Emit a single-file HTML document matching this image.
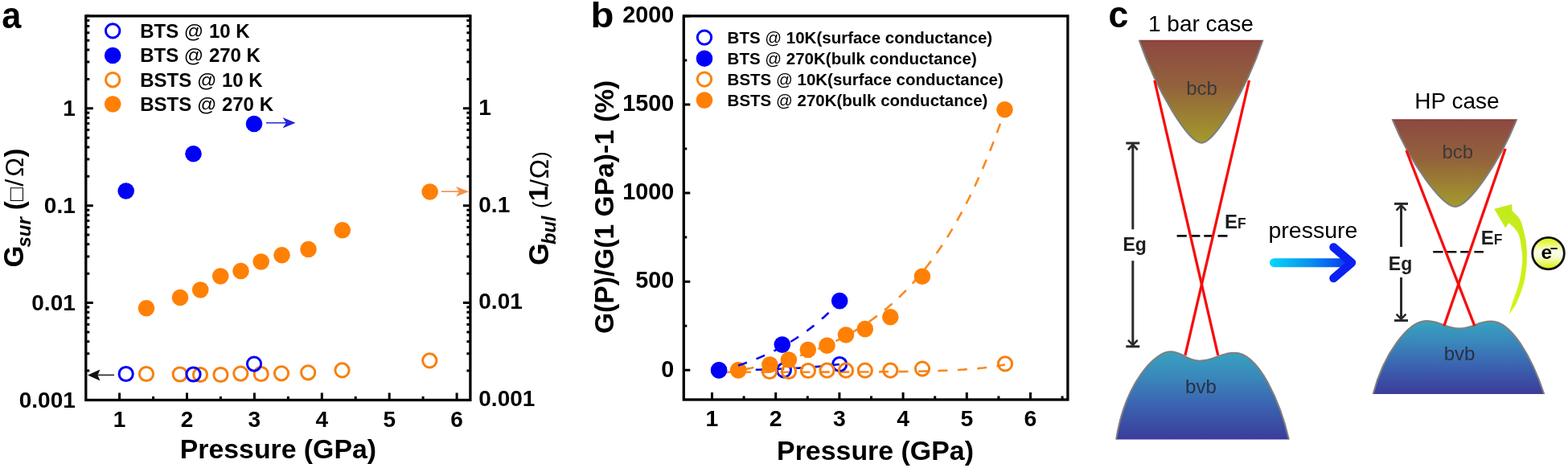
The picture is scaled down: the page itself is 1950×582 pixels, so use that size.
<!DOCTYPE html>
<html><head><meta charset="utf-8"><style>
html,body{margin:0;padding:0;background:#fff;}
svg{display:block;}
text{font-family:'Liberation Sans', Arial, Helvetica, sans-serif;}
</style></head><body>
<svg width="1950" height="582" viewBox="0 0 1950 582" font-family="'Liberation Sans', Arial, Helvetica, sans-serif">
<rect width="1950" height="582" fill="#fff"/>
<text transform="translate(2.2,34.6) scale(0.93,1)" font-size="46.5" font-weight="bold">a</text>
<path d="M148.6,497.5 V488.5 M232.5,497.5 V488.5 M316.4,497.5 V488.5 M400.3,497.5 V488.5 M484.2,497.5 V488.5 M568.1,497.5 V488.5 M190.6,497.5 V493.0 M274.4,497.5 V493.0 M358.4,497.5 V493.0 M442.2,497.5 V493.0 M526.1,497.5 V493.0 M106.8,497.5 H115.8 M584.9,497.5 H575.9 M106.8,461.1 H111.3 M584.9,461.1 H580.4 M106.8,439.8 H111.3 M584.9,439.8 H580.4 M106.8,424.7 H111.3 M584.9,424.7 H580.4 M106.8,413.0 H111.3 M584.9,413.0 H580.4 M106.8,403.4 H111.3 M584.9,403.4 H580.4 M106.8,395.3 H111.3 M584.9,395.3 H580.4 M106.8,388.3 H111.3 M584.9,388.3 H580.4 M106.8,382.1 H111.3 M584.9,382.1 H580.4 M106.8,376.6 H115.8 M584.9,376.6 H575.9 M106.8,340.2 H111.3 M584.9,340.2 H580.4 M106.8,318.9 H111.3 M584.9,318.9 H580.4 M106.8,303.8 H111.3 M584.9,303.8 H580.4 M106.8,292.1 H111.3 M584.9,292.1 H580.4 M106.8,282.5 H111.3 M584.9,282.5 H580.4 M106.8,274.4 H111.3 M584.9,274.4 H580.4 M106.8,267.4 H111.3 M584.9,267.4 H580.4 M106.8,261.2 H111.3 M584.9,261.2 H580.4 M106.8,255.7 H115.8 M584.9,255.7 H575.9 M106.8,219.3 H111.3 M584.9,219.3 H580.4 M106.8,198.0 H111.3 M584.9,198.0 H580.4 M106.8,182.9 H111.3 M584.9,182.9 H580.4 M106.8,171.2 H111.3 M584.9,171.2 H580.4 M106.8,161.6 H111.3 M584.9,161.6 H580.4 M106.8,153.5 H111.3 M584.9,153.5 H580.4 M106.8,146.5 H111.3 M584.9,146.5 H580.4 M106.8,140.3 H111.3 M584.9,140.3 H580.4 M106.8,134.8 H115.8 M584.9,134.8 H575.9 M106.8,98.4 H111.3 M584.9,98.4 H580.4 M106.8,77.1 H111.3 M584.9,77.1 H580.4 M106.8,62.0 H111.3 M584.9,62.0 H580.4 M106.8,50.3 H111.3 M584.9,50.3 H580.4 M106.8,40.7 H111.3 M584.9,40.7 H580.4 M106.8,32.6 H111.3 M584.9,32.6 H580.4 M106.8,25.6 H111.3 M584.9,25.6 H580.4 M106.8,19.4 H111.3 M584.9,19.4 H580.4" stroke="#000" stroke-width="3" fill="none"/>
<rect x="106.8" y="19.9" width="478.1" height="477.6" fill="none" stroke="#000" stroke-width="3.3"/>
<text x="93.8" y="144.1" font-size="28" font-weight="bold" text-anchor="end">1</text>
<text x="595.3" y="142.6" font-size="28" font-weight="bold">1</text>
<text x="93.8" y="265.0" font-size="28" font-weight="bold" text-anchor="end">0.1</text>
<text x="595.3" y="263.5" font-size="28" font-weight="bold">0.1</text>
<text x="93.8" y="385.9" font-size="28" font-weight="bold" text-anchor="end">0.01</text>
<text x="595.3" y="384.4" font-size="28" font-weight="bold">0.01</text>
<text x="93.8" y="506.8" font-size="28" font-weight="bold" text-anchor="end">0.001</text>
<text x="595.3" y="505.3" font-size="28" font-weight="bold">0.001</text>
<text x="148.6" y="531.3" font-size="28" font-weight="bold" text-anchor="middle">1</text>
<text x="232.5" y="531.3" font-size="28" font-weight="bold" text-anchor="middle">2</text>
<text x="316.4" y="531.3" font-size="28" font-weight="bold" text-anchor="middle">3</text>
<text x="400.3" y="531.3" font-size="28" font-weight="bold" text-anchor="middle">4</text>
<text x="484.2" y="531.3" font-size="28" font-weight="bold" text-anchor="middle">5</text>
<text x="568.1" y="531.3" font-size="28" font-weight="bold" text-anchor="middle">6</text>
<text x="345.9" y="570.3" font-size="33.8" font-weight="bold" text-anchor="middle">Pressure (GPa)</text>
<text transform="translate(28.9,332.6) rotate(-90)" font-size="34.5" font-weight="bold" font-style="normal">G</text>
<text transform="translate(38.0,307.5) rotate(-90)" font-size="24" font-weight="bold" font-style="italic">sur</text>
<text transform="translate(28.7,261.2) rotate(-90)" font-size="33" font-weight="bold" font-style="normal">(</text>
<text transform="translate(28.6,250.0) rotate(-90)" font-size="27.5" font-weight="normal" font-style="normal">&#9633;</text>
<text transform="translate(28.6,231.8) rotate(-90)" font-size="32" font-weight="normal" font-style="normal">/</text>
<text transform="translate(28.6,219.8) rotate(-90)" font-size="32" font-weight="normal" font-style="normal">&#937;</text>
<text transform="translate(28.7,195.5) rotate(-90)" font-size="33" font-weight="bold" font-style="normal">)</text>
<text transform="translate(682.0,330.0) rotate(-90)" font-size="35.5" font-weight="bold" font-style="normal">G</text>
<text transform="translate(690.7,304.0) rotate(-90)" font-size="23.6" font-weight="bold" font-style="italic">bul</text>
<text transform="translate(681.3,259.0) rotate(-90)" font-size="26" font-weight="normal" font-style="normal">(</text>
<text transform="translate(681.0,250.0) rotate(-90)" font-size="33.5" font-weight="bold" font-style="normal">1</text>
<text transform="translate(681.7,232.0) rotate(-90)" font-size="32" font-weight="normal" font-style="normal">/</text>
<text transform="translate(681.7,222.5) rotate(-90)" font-size="33" font-weight="normal" font-style="normal">&#937;</text>
<text transform="translate(681.3,197.0) rotate(-90)" font-size="26" font-weight="normal" font-style="normal">)</text>
<circle cx="140.2" cy="38.4" r="8.7" fill="none" stroke="#0000fa" stroke-width="3"/>
<text x="174.2" y="46.8" font-size="24" font-weight="bold">BTS <tspan font-weight='normal'>@</tspan> 10 K</text>
<circle cx="140.2" cy="69" r="10.3" fill="#0000fa"/>
<text x="174.2" y="77.4" font-size="24" font-weight="bold">BTS <tspan font-weight='normal'>@</tspan> 270 K</text>
<circle cx="140.2" cy="99.2" r="8.7" fill="none" stroke="#ff8005" stroke-width="3"/>
<text x="174.2" y="107.6" font-size="24" font-weight="bold">BSTS <tspan font-weight='normal'>@</tspan> 10 K</text>
<circle cx="140.2" cy="129.5" r="10.3" fill="#ff8005"/>
<text x="174.2" y="137.9" font-size="24" font-weight="bold">BSTS <tspan font-weight='normal'>@</tspan> 270 K</text>
<circle cx="182.0" cy="465.0" r="8.6" fill="none" stroke="#f7800f" stroke-width="3"/>
<circle cx="223.7" cy="465.5" r="8.6" fill="none" stroke="#f7800f" stroke-width="3"/>
<circle cx="249.0" cy="466.0" r="8.6" fill="none" stroke="#f7800f" stroke-width="3"/>
<circle cx="274.4" cy="466.0" r="8.6" fill="none" stroke="#f7800f" stroke-width="3"/>
<circle cx="299.3" cy="464.6" r="8.6" fill="none" stroke="#f7800f" stroke-width="3"/>
<circle cx="324.7" cy="465.0" r="8.6" fill="none" stroke="#f7800f" stroke-width="3"/>
<circle cx="350.0" cy="464.3" r="8.6" fill="none" stroke="#f7800f" stroke-width="3"/>
<circle cx="383.2" cy="463.3" r="8.6" fill="none" stroke="#f7800f" stroke-width="3"/>
<circle cx="425.5" cy="460.4" r="8.6" fill="none" stroke="#f7800f" stroke-width="3"/>
<circle cx="534.3" cy="448.4" r="8.6" fill="none" stroke="#f7800f" stroke-width="3"/>
<circle cx="156.7" cy="465.0" r="8.6" fill="none" stroke="#0000fa" stroke-width="3"/>
<circle cx="240.5" cy="465.5" r="8.6" fill="none" stroke="#0000fa" stroke-width="3"/>
<circle cx="316.0" cy="452.6" r="8.6" fill="none" stroke="#0000fa" stroke-width="3"/>
<circle cx="182.0" cy="383.2" r="10.3" fill="#ff8005"/>
<circle cx="224.0" cy="370.0" r="10.3" fill="#ff8005"/>
<circle cx="249.2" cy="360.5" r="10.3" fill="#ff8005"/>
<circle cx="274.2" cy="343.5" r="10.3" fill="#ff8005"/>
<circle cx="299.5" cy="337.0" r="10.3" fill="#ff8005"/>
<circle cx="324.7" cy="325.5" r="10.3" fill="#ff8005"/>
<circle cx="350.5" cy="317.2" r="10.3" fill="#ff8005"/>
<circle cx="383.5" cy="310.0" r="10.3" fill="#ff8005"/>
<circle cx="425.8" cy="286.3" r="10.3" fill="#ff8005"/>
<circle cx="534.6" cy="238.5" r="10.3" fill="#ff8005"/>
<circle cx="156.7" cy="237.5" r="10.3" fill="#0000fa"/>
<circle cx="240.5" cy="191.3" r="10.3" fill="#0000fa"/>
<circle cx="316.0" cy="154.0" r="10.3" fill="#0000fa"/>
<line x1="331" y1="152.8" x2="356.0" y2="152.8" stroke="#2424d8" stroke-width="1.5"/>
<path d="M367.5,152.8 L351.5,146.0 L356.0,152.8 L351.5,159.6 Z" fill="#2424d8"/>
<line x1="548.8" y1="238.2" x2="571.1" y2="238.2" stroke="#f39046" stroke-width="1.6"/>
<path d="M583.1,238.2 L567.1,232.0 L571.1,238.2 L567.1,244.4 Z" fill="#f39046"/>
<line x1="142" y1="466.4" x2="121.5" y2="466.4" stroke="#111" stroke-width="1.4"/>
<path d="M109,466.4 L124.5,459.4 L121.5,466.4 L124.5,473.4 Z" fill="#111"/>
<text transform="translate(734.5,34) scale(1.08,1)" font-size="43.8" font-weight="bold">b</text>
<path d="M885.5,497 V488 M964.7,497 V488 M1043.9,497 V488 M1123.1,497 V488 M1202.3,497 V488 M1281.5,497 V488 M925.1,497 V492.5 M1004.3,497 V492.5 M1083.5,497 V492.5 M1162.7,497 V492.5 M1241.9,497 V492.5 M1321.1,497 V492.5 M850.3,460.3 H858.3 M850.3,405.2 H854.3 M850.3,350.2 H858.3 M850.3,295.1 H854.3 M850.3,240.1 H858.3 M850.3,185.1 H854.3 M850.3,130.0 H858.3 M850.3,74.9 H854.3 M850.3,19.9 H858.3" stroke="#000" stroke-width="3" fill="none"/>
<rect x="850.3" y="19.9" width="477.6" height="477.1" fill="none" stroke="#000" stroke-width="3.3"/>
<text x="838.3" y="468.5" font-size="28.8" font-weight="bold" text-anchor="end">0</text>
<text x="838.3" y="358.4" font-size="28.8" font-weight="bold" text-anchor="end">500</text>
<text x="838.3" y="248.3" font-size="28.8" font-weight="bold" text-anchor="end">1000</text>
<text x="838.3" y="138.2" font-size="28.8" font-weight="bold" text-anchor="end">1500</text>
<text x="838.3" y="28.1" font-size="28.8" font-weight="bold" text-anchor="end">2000</text>
<text x="885.5" y="530.4" font-size="28.4" font-weight="bold" text-anchor="middle">1</text>
<text x="964.7" y="530.4" font-size="28.4" font-weight="bold" text-anchor="middle">2</text>
<text x="1043.9" y="530.4" font-size="28.4" font-weight="bold" text-anchor="middle">3</text>
<text x="1123.1" y="530.4" font-size="28.4" font-weight="bold" text-anchor="middle">4</text>
<text x="1202.3" y="530.4" font-size="28.4" font-weight="bold" text-anchor="middle">5</text>
<text x="1281.5" y="530.4" font-size="28.4" font-weight="bold" text-anchor="middle">6</text>
<text x="1088.5" y="571.8" font-size="33.9" font-weight="bold" text-anchor="middle">Pressure (GPa)</text>
<text transform="translate(762.8,415) rotate(-90)" font-size="33.6" font-weight="bold">G(P)/G(1 GPa)-1 (%)</text>
<polyline points="893.4,462.7 895.7,462.7 897.9,462.7 900.1,462.7 902.4,462.7 904.6,462.7 906.9,462.7 909.1,462.7 911.4,462.7 913.6,462.7 915.8,462.7 918.1,462.7 920.3,462.7 922.6,462.7 924.8,462.7 927.0,462.7 929.3,462.7 931.5,462.7 933.8,462.7 936.0,462.7 938.3,462.7 940.5,462.7 942.7,462.7 945.0,462.7 947.2,462.7 949.5,462.7 951.7,462.7 953.9,462.7 956.2,462.7 958.4,462.7 960.7,462.7 962.9,462.7 965.1,462.7 967.4,462.7 969.6,462.7 971.9,462.7 974.1,462.7 976.4,462.7 978.6,462.7 980.8,462.7 983.1,462.7 985.3,462.7 987.6,462.7 989.8,462.7 992.0,462.7 994.3,462.7 996.5,462.7 998.8,462.7 1001.0,462.7 1003.3,462.7 1005.5,462.7 1007.7,462.7 1010.0,462.7 1012.2,462.7 1014.5,462.7 1016.7,462.7 1018.9,462.7 1021.2,462.6 1023.4,462.6 1025.7,462.6 1027.9,462.6 1030.2,462.6 1032.4,462.6 1034.6,462.6 1036.9,462.6 1039.1,462.6 1041.4,462.6 1043.6,462.6 1045.8,462.6 1048.1,462.6 1050.3,462.6 1052.6,462.6 1054.8,462.6 1057.1,462.6 1059.3,462.6 1061.5,462.5 1063.8,462.5 1066.0,462.5 1068.3,462.5 1070.5,462.5 1072.7,462.5 1075.0,462.5 1077.2,462.5 1079.5,462.5 1081.7,462.5 1083.9,462.4 1086.2,462.4 1088.4,462.4 1090.7,462.4 1092.9,462.4 1095.2,462.4 1097.4,462.3 1099.6,462.3 1101.9,462.3 1104.1,462.3 1106.4,462.3 1108.6,462.2 1110.8,462.2 1113.1,462.2 1115.3,462.2 1117.6,462.1 1119.8,462.1 1122.1,462.1 1124.3,462.1 1126.5,462.0 1128.8,462.0 1131.0,462.0 1133.3,461.9 1135.5,461.9 1137.7,461.8 1140.0,461.8 1142.2,461.8 1144.5,461.7 1146.7,461.7 1149.0,461.6 1151.2,461.6 1153.4,461.5 1155.7,461.4 1157.9,461.4 1160.2,461.3 1162.4,461.3 1164.6,461.2 1166.9,461.1 1169.1,461.0 1171.4,460.9 1173.6,460.9 1175.9,460.8 1178.1,460.7 1180.3,460.6 1182.6,460.5 1184.8,460.4 1187.1,460.2 1189.3,460.1 1191.5,460.0 1193.8,459.9 1196.0,459.7 1198.3,459.6 1200.5,459.4 1202.7,459.3 1205.0,459.1 1207.2,458.9 1209.5,458.8 1211.7,458.6 1214.0,458.4 1216.2,458.2 1218.4,457.9 1220.7,457.7 1222.9,457.5 1225.2,457.2 1227.4,456.9 1229.6,456.7 1231.9,456.4 1234.1,456.1 1236.4,455.7 1238.6,455.4 1240.9,455.1 1243.1,454.7 1245.3,454.3 1247.6,453.9 1249.8,453.5" fill="none" stroke="#f78a22" stroke-width="2.6" stroke-dasharray="12 12.45" stroke-dashoffset="20.35" stroke-linecap="butt"/>
<polyline points="893.4,460.7 894.4,460.6 895.3,460.6 896.3,460.6 897.2,460.6 898.2,460.6 899.1,460.6 900.0,460.6 901.0,460.6 901.9,460.5 902.9,460.5 903.8,460.5 904.8,460.5 905.7,460.5 906.7,460.5 907.6,460.5 908.6,460.4 909.5,460.4 910.5,460.4 911.4,460.4 912.3,460.4 913.3,460.4 914.2,460.3 915.2,460.3 916.1,460.3 917.1,460.3 918.0,460.3 919.0,460.3 919.9,460.2 920.9,460.2 921.8,460.2 922.8,460.2 923.7,460.2 924.7,460.2 925.6,460.1 926.5,460.1 927.5,460.1 928.4,460.1 929.4,460.1 930.3,460.0 931.3,460.0 932.2,460.0 933.2,460.0 934.1,459.9 935.1,459.9 936.0,459.9 937.0,459.9 937.9,459.9 938.8,459.8 939.8,459.8 940.7,459.8 941.7,459.8 942.6,459.7 943.6,459.7 944.5,459.7 945.5,459.7 946.4,459.6 947.4,459.6 948.3,459.6 949.3,459.5 950.2,459.5 951.2,459.5 952.1,459.5 953.0,459.4 954.0,459.4 954.9,459.4 955.9,459.3 956.8,459.3 957.8,459.3 958.7,459.2 959.7,459.2 960.6,459.2 961.6,459.1 962.5,459.1 963.5,459.1 964.4,459.0 965.3,459.0 966.3,459.0 967.2,458.9 968.2,458.9 969.1,458.9 970.1,458.8 971.0,458.8 972.0,458.7 972.9,458.7 973.9,458.7 974.8,458.6 975.8,458.6 976.7,458.5 977.7,458.5 978.6,458.4 979.5,458.4 980.5,458.3 981.4,458.3 982.4,458.3 983.3,458.2 984.3,458.2 985.2,458.1 986.2,458.1 987.1,458.0 988.1,458.0 989.0,457.9 990.0,457.8 990.9,457.8 991.8,457.7 992.8,457.7 993.7,457.6 994.7,457.6 995.6,457.5 996.6,457.5 997.5,457.4 998.5,457.3 999.4,457.3 1000.4,457.2 1001.3,457.1 1002.3,457.1 1003.2,457.0 1004.2,456.9 1005.1,456.9 1006.0,456.8 1007.0,456.7 1007.9,456.7 1008.9,456.6 1009.8,456.5 1010.8,456.5 1011.7,456.4 1012.7,456.3 1013.6,456.2 1014.6,456.1 1015.5,456.1 1016.5,456.0 1017.4,455.9 1018.3,455.8 1019.3,455.7 1020.2,455.6 1021.2,455.6 1022.1,455.5 1023.1,455.4 1024.0,455.3 1025.0,455.2 1025.9,455.1 1026.9,455.0 1027.8,454.9 1028.8,454.8 1029.7,454.7 1030.7,454.6 1031.6,454.5 1032.5,454.4 1033.5,454.3 1034.4,454.2 1035.4,454.1 1036.3,454.0 1037.3,453.9 1038.2,453.7 1039.2,453.6 1040.1,453.5 1041.1,453.4 1042.0,453.3 1043.0,453.2 1043.9,453.0" fill="none" stroke="#0808ee" stroke-width="2.6" stroke-dasharray="11.5 12.50" stroke-dashoffset="1.62" stroke-linecap="butt"/>
<polyline points="917.2,460.8 919.3,460.4 921.4,460.1 923.5,459.7 925.5,459.3 927.6,459.0 929.7,458.6 931.8,458.2 933.9,457.8 936.0,457.3 938.1,456.9 940.2,456.5 942.3,456.1 944.4,455.6 946.5,455.2 948.6,454.7 950.7,454.2 952.7,453.8 954.8,453.3 956.9,452.8 959.0,452.3 961.1,451.8 963.2,451.2 965.3,450.7 967.4,450.2 969.5,449.6 971.6,449.1 973.7,448.5 975.8,447.9 977.9,447.3 979.9,446.7 982.0,446.1 984.1,445.5 986.2,444.8 988.3,444.2 990.4,443.5 992.5,442.9 994.6,442.2 996.7,441.5 998.8,440.8 1000.9,440.1 1003.0,439.3 1005.0,438.6 1007.1,437.8 1009.2,437.0 1011.3,436.2 1013.4,435.4 1015.5,434.6 1017.6,433.8 1019.7,432.9 1021.8,432.1 1023.9,431.2 1026.0,430.3 1028.1,429.4 1030.2,428.5 1032.2,427.5 1034.3,426.6 1036.4,425.6 1038.5,424.6 1040.6,423.6 1042.7,422.5 1044.8,421.5 1046.9,420.4 1049.0,419.3 1051.1,418.2 1053.2,417.1 1055.3,415.9 1057.3,414.8 1059.4,413.6 1061.5,412.4 1063.6,411.1 1065.7,409.9 1067.8,408.6 1069.9,407.3 1072.0,405.9 1074.1,404.6 1076.2,403.2 1078.3,401.8 1080.4,400.4 1082.5,398.9 1084.5,397.5 1086.6,395.9 1088.7,394.4 1090.8,392.8 1092.9,391.3 1095.0,389.6 1097.1,388.0 1099.2,386.3 1101.3,384.6 1103.4,382.9 1105.5,381.1 1107.6,379.3 1109.7,377.5 1111.7,375.6 1113.8,373.7 1115.9,371.7 1118.0,369.8 1120.1,367.8 1122.2,365.7 1124.3,363.6 1126.4,361.5 1128.5,359.3 1130.6,357.1 1132.7,354.9 1134.8,352.6 1136.8,350.3 1138.9,347.9 1141.0,345.5 1143.1,343.1 1145.2,340.6 1147.3,338.1 1149.4,335.5 1151.5,332.8 1153.6,330.2 1155.7,327.4 1157.8,324.7 1159.9,321.8 1162.0,319.0 1164.0,316.0 1166.1,313.0 1168.2,310.0 1170.3,306.9 1172.4,303.8 1174.5,300.6 1176.6,297.3 1178.7,294.0 1180.8,290.6 1182.9,287.1 1185.0,283.6 1187.1,280.0 1189.1,276.4 1191.2,272.7 1193.3,268.9 1195.4,265.1 1197.5,261.2 1199.6,257.2 1201.7,253.2 1203.8,249.0 1205.9,244.8 1208.0,240.6 1210.1,236.2 1212.2,231.8 1214.3,227.3 1216.3,222.7 1218.4,218.0 1220.5,213.2 1222.6,208.4 1224.7,203.4 1226.8,198.4 1228.9,193.3 1231.0,188.1 1233.1,182.8 1235.2,177.4 1237.3,171.9 1239.4,166.3 1241.5,160.6 1243.5,154.8 1245.6,148.9 1247.7,142.8 1249.8,136.7" fill="none" stroke="#f78a22" stroke-width="2.6" stroke-dasharray="12.5 11.50" stroke-dashoffset="16.02" stroke-linecap="butt"/>
<circle cx="894.1" cy="460.4" r="8.6" fill="none" stroke="#0000fa" stroke-width="3"/>
<circle cx="974.9" cy="460.4" r="8.6" fill="none" stroke="#0000fa" stroke-width="3"/>
<circle cx="1044.2" cy="453.0" r="8.6" fill="none" stroke="#0000fa" stroke-width="3"/>
<circle cx="957.0" cy="462.0" r="8.6" fill="none" stroke="#f7800f" stroke-width="3"/>
<circle cx="981.0" cy="462.0" r="8.6" fill="none" stroke="#f7800f" stroke-width="3"/>
<circle cx="1005.0" cy="461.0" r="8.6" fill="none" stroke="#f7800f" stroke-width="3"/>
<circle cx="1028.5" cy="460.7" r="8.6" fill="none" stroke="#f7800f" stroke-width="3"/>
<circle cx="1052.0" cy="460.7" r="8.6" fill="none" stroke="#f7800f" stroke-width="3"/>
<circle cx="1075.8" cy="460.7" r="8.6" fill="none" stroke="#f7800f" stroke-width="3"/>
<circle cx="1107.3" cy="460.7" r="8.6" fill="none" stroke="#f7800f" stroke-width="3"/>
<circle cx="1147.0" cy="458.6" r="8.6" fill="none" stroke="#f7800f" stroke-width="3"/>
<circle cx="1250.0" cy="452.4" r="8.6" fill="none" stroke="#f7800f" stroke-width="3"/>
<circle cx="918.2" cy="460.4" r="8.6" fill="none" stroke="#f7800f" stroke-width="3"/>
<circle cx="918.2" cy="460.4" r="10.3" fill="#ff8005"/>
<circle cx="957.4" cy="453.5" r="10.3" fill="#ff8005"/>
<circle cx="980.9" cy="447.5" r="10.3" fill="#ff8005"/>
<circle cx="1004.8" cy="435.0" r="10.3" fill="#ff8005"/>
<circle cx="1028.5" cy="429.8" r="10.3" fill="#ff8005"/>
<circle cx="1052.0" cy="416.5" r="10.3" fill="#ff8005"/>
<circle cx="1075.8" cy="409.1" r="10.3" fill="#ff8005"/>
<circle cx="1107.3" cy="394.2" r="10.3" fill="#ff8005"/>
<circle cx="1146.9" cy="343.8" r="10.3" fill="#ff8005"/>
<circle cx="1249.5" cy="136.3" r="10.3" fill="#ff8005"/>
<circle cx="894.1" cy="460.4" r="10.3" fill="#0000fa"/>
<circle cx="972.8" cy="428.6" r="10.3" fill="#0000fa"/>
<circle cx="1044.2" cy="374.1" r="10.3" fill="#0000fa"/>
<polyline points="917.2,454.8 918.0,454.6 918.8,454.3 919.6,454.1 920.4,453.8 921.2,453.5 922.0,453.3 922.8,453.0 923.6,452.7 924.4,452.4 925.1,452.2 925.9,451.9 926.7,451.6 927.5,451.3 928.3,451.0 929.1,450.7 929.9,450.4 930.7,450.1 931.5,449.9 932.3,449.6 933.1,449.3 933.9,449.0 934.7,448.6 935.5,448.3 936.3,448.0 937.1,447.7 937.9,447.4 938.7,447.1 939.5,446.8 940.3,446.4 941.1,446.1 941.9,445.8 942.7,445.5 943.5,445.1 944.3,444.8 945.1,444.5 945.9,444.1 946.7,443.8 947.5,443.4 948.3,443.1 949.1,442.8 949.9,442.4 950.7,442.0 951.5,441.7 952.2,441.3 953.0,441.0 953.8,440.6 954.6,440.2 955.4,439.9 956.2,439.5 957.0,439.1 957.8,438.7 958.6,438.4 959.4,438.0 960.2,437.6 961.0,437.2 961.8,436.8 962.6,436.4 963.4,436.0 964.2,435.6 965.0,435.2 965.8,434.8 966.6,434.4 967.4,434.0 968.2,433.5 969.0,433.1 969.8,432.7 970.6,432.3 971.4,431.8 972.2,431.4 973.0,431.0 973.8,430.5 974.6,430.1 975.4,429.6 976.2,429.2 977.0,428.7 977.8,428.3 978.5,427.8 979.3,427.4 980.1,426.9 980.9,426.4 981.7,425.9 982.5,425.5 983.3,425.0 984.1,424.5 984.9,424.0 985.7,423.5 986.5,423.0 987.3,422.5 988.1,422.0 988.9,421.5 989.7,421.0 990.5,420.5 991.3,420.0 992.1,419.4 992.9,418.9 993.7,418.4 994.5,417.8 995.3,417.3 996.1,416.8 996.9,416.2 997.7,415.7 998.5,415.1 999.3,414.5 1000.1,414.0 1000.9,413.4 1001.7,412.8 1002.5,412.3 1003.3,411.7 1004.1,411.1 1004.8,410.5 1005.6,409.9 1006.4,409.3 1007.2,408.7 1008.0,408.1 1008.8,407.5 1009.6,406.9 1010.4,406.2 1011.2,405.6 1012.0,405.0 1012.8,404.3 1013.6,403.7 1014.4,403.0 1015.2,402.4 1016.0,401.7 1016.8,401.1 1017.6,400.4 1018.4,399.7 1019.2,399.1 1020.0,398.4 1020.8,397.7 1021.6,397.0 1022.4,396.3 1023.2,395.6 1024.0,394.9 1024.8,394.2 1025.6,393.5 1026.4,392.7 1027.2,392.0 1028.0,391.3 1028.8,390.5 1029.6,389.8 1030.4,389.0 1031.1,388.3 1031.9,387.5 1032.7,386.8 1033.5,386.0 1034.3,385.2 1035.1,384.4 1035.9,383.6 1036.7,382.8 1037.5,382.0 1038.3,381.2 1039.1,380.4 1039.9,379.6 1040.7,378.7 1041.5,377.9 1042.3,377.1 1043.1,376.2 1043.9,375.4" fill="none" stroke="#0808ee" stroke-width="2.6" stroke-dasharray="11.5 12.50" stroke-dashoffset="23.16" stroke-linecap="butt"/>
<circle cx="876" cy="46.6" r="8.7" fill="none" stroke="#0000fa" stroke-width="3"/>
<text x="904.6" y="53.6" font-size="20.5" font-weight="bold">BTS <tspan font-weight='normal'>@</tspan> 10K(surface conductance)</text>
<circle cx="876" cy="72.8" r="10.3" fill="#0000fa"/>
<text x="904.6" y="79.8" font-size="20.5" font-weight="bold">BTS <tspan font-weight='normal'>@</tspan> 270K(bulk conductance)</text>
<circle cx="876" cy="98.6" r="8.7" fill="none" stroke="#ff8005" stroke-width="3"/>
<text x="904.6" y="105.6" font-size="20.5" font-weight="bold">BSTS <tspan font-weight='normal'>@</tspan> 10K(surface conductance)</text>
<circle cx="876" cy="124.6" r="10.3" fill="#ff8005"/>
<text x="904.6" y="131.6" font-size="20.5" font-weight="bold">BSTS <tspan font-weight='normal'>@</tspan> 270K(bulk conductance)</text>
<text transform="translate(1378.5,34.4) scale(0.96,1)" font-size="46.5" font-weight="bold">c</text>
<defs>
<linearGradient id="gcb" x1="0" y1="0" x2="0" y2="1"><stop offset="0" stop-color="#8c3a36"/><stop offset="0.03" stop-color="#8d4a41"/><stop offset="0.45" stop-color="#93623c"/><stop offset="1" stop-color="#a39b2b"/></linearGradient>
<linearGradient id="gvb" x1="0" y1="0" x2="0" y2="1"><stop offset="0" stop-color="#37a3c0"/><stop offset="0.3" stop-color="#3a86bb"/><stop offset="0.62" stop-color="#3b62b0"/><stop offset="1" stop-color="#3b3c9a"/></linearGradient>
<linearGradient id="gpr" gradientUnits="userSpaceOnUse" x1="1580" y1="0" x2="1690" y2="0"><stop offset="0" stop-color="#04d6f6"/><stop offset="0.45" stop-color="#0890f0"/><stop offset="0.8" stop-color="#0848ee"/><stop offset="1" stop-color="#0c20f2"/></linearGradient>
<linearGradient id="gye" gradientUnits="userSpaceOnUse" x1="0" y1="392" x2="0" y2="254"><stop offset="0" stop-color="#d2f614"/><stop offset="1" stop-color="#c2ea1c"/></linearGradient>
<linearGradient id="gel" x1="0" y1="0" x2="0" y2="1"><stop offset="0.05" stop-color="#def414"/><stop offset="0.45" stop-color="#fcfff0"/><stop offset="0.62" stop-color="#f8fcd2"/><stop offset="0.95" stop-color="#dcf018"/></linearGradient>
</defs>
<path d="M1416.7,49.8 C1439.4,115.8 1478.5,177.7 1494.2,177.7 C1509.7,177.7 1548.2,115.8 1570.6,49.8 Z" fill="url(#gcb)"/>
<path d="M1416.7,49.8 C1439.4,115.8 1478.5,177.7 1494.2,177.7 C1509.7,177.7 1548.2,115.8 1570.6,49.8" fill="none" stroke="#7f7f7f" stroke-width="2"/>
<path d="M1731.4,148.2 C1754.4,204.3 1793.9,257 1809.8,257 C1825.4,257 1864.0,204.3 1886.4,148.2 Z" fill="url(#gcb)"/>
<path d="M1731.4,148.2 C1754.4,204.3 1793.9,257 1809.8,257 C1825.4,257 1864.0,204.3 1886.4,148.2" fill="none" stroke="#7f7f7f" stroke-width="2"/>
<path d="M1388.1,546.5 C1399.4,474.8 1437.2,437.2 1455.1,437.2 C1471.4,437.2 1475.1,448.7 1491.4,448.7 C1511.2,448.7 1515.5,438.7 1535.3,438.7 C1566.1,438.7 1592.7,502.0 1602.9,546.5 Z" fill="url(#gvb)"/>
<path d="M1388.1,546.5 C1399.4,474.8 1437.2,437.2 1455.1,437.2 C1471.4,437.2 1475.1,448.7 1491.4,448.7 C1511.2,448.7 1515.5,438.7 1535.3,438.7 C1566.1,438.7 1592.7,502.0 1602.9,546.5" fill="none" stroke="#7f7f7f" stroke-width="2"/>
<path d="M1707.6,490.1 C1720.5,440.3 1751.3,399 1774,399 C1792.5,399 1796.6,408.5 1815.1,408.5 C1832.8,408.5 1836.7,399.4 1854.4,399.4 C1879.8,399.4 1905.3,444.9 1920.3,490.1 Z" fill="url(#gvb)"/>
<path d="M1707.6,490.1 C1720.5,440.3 1751.3,399 1774,399 C1792.5,399 1796.6,408.5 1815.1,408.5 C1832.8,408.5 1836.7,399.4 1854.4,399.4 C1879.8,399.4 1905.3,444.9 1920.3,490.1" fill="none" stroke="#7f7f7f" stroke-width="2"/>
<g stroke="#111" stroke-width="2.6"><path d="M1463.6,293.4 h12.2 M1480.3,293.4 h12.1 M1497.3,293.4 h12 M1514.5,293.4 h12"/><path d="M1782.2,313.2 h12.4 M1799,313.2 h12.4 M1816.2,313.2 h12 M1833.4,313.2 h11.6"/></g>
<g stroke="#f50d0d" stroke-width="3.3" fill="none"><line x1="1435.8" y1="100" x2="1514.8" y2="441.9"/><line x1="1553.5" y1="100" x2="1473.9" y2="441.9"/><line x1="1748.9" y1="187" x2="1833.9" y2="405.3"/><line x1="1872.1" y1="185" x2="1795.9" y2="405.3"/></g>
<text x="1428" y="39" font-size="28">1 bar case</text>
<text x="1759.3" y="134.8" font-size="28">HP case</text>
<text x="1494.5" y="117.8" font-size="24" fill="#3a3a3a" text-anchor="middle">bcb</text>
<text x="1812.8" y="196.9" font-size="24" fill="#3a3a3a" text-anchor="middle">bcb</text>
<text x="1493.4" y="489.3" font-size="24" fill="#2a2f45" text-anchor="middle">bvb</text>
<text x="1815.1" y="447.8" font-size="24" fill="#2a2f45" text-anchor="middle">bvb</text>
<g stroke="#2a2a2a" stroke-width="3" fill="none"><line x1="1408.8" y1="178" x2="1408.8" y2="285.2"/><line x1="1408.8" y1="324.2" x2="1408.8" y2="430.9"/><line x1="1400.3" y1="178" x2="1417.3" y2="178"/><line x1="1400.3" y1="430.9" x2="1417.3" y2="430.9"/><polyline points="1403.6,185.5 1408.8,179.8 1414.0,185.5" stroke-width="2.6" stroke-linecap="round"/><polyline points="1403.6,423.7 1408.8,429.09999999999997 1414.0,423.7" stroke-width="2.6" stroke-linecap="round"/></g>
<text x="1411.2" y="311.8" font-size="23" font-weight="bold" fill="#1e1e1e" text-anchor="middle">Eg</text>
<g stroke="#2a2a2a" stroke-width="3" fill="none"><line x1="1742.5" y1="253.4" x2="1742.5" y2="307"/><line x1="1742.5" y1="345" x2="1742.5" y2="398.6"/><line x1="1734.0" y1="253.4" x2="1751.0" y2="253.4"/><line x1="1734.0" y1="398.6" x2="1751.0" y2="398.6"/><polyline points="1737.3,260.9 1742.5,255.20000000000002 1747.7,260.9" stroke-width="2.6" stroke-linecap="round"/><polyline points="1737.3,391.40000000000003 1742.5,396.8 1747.7,391.40000000000003" stroke-width="2.6" stroke-linecap="round"/></g>
<text x="1741.5" y="336.2" font-size="23" font-weight="bold" fill="#1e1e1e" text-anchor="middle">Eg</text>
<text x="1523" y="284" font-size="24" font-weight="bold" fill="#1e1e1e">E<tspan font-size="17.5">F</tspan></text>
<text x="1841.7" y="304" font-size="24" font-weight="bold" fill="#1e1e1e">E<tspan font-size="17.5">F</tspan></text>
<text x="1577.5" y="296.1" font-size="28.5">pressure</text>
<path d="M1584.5,326.7 H1678" stroke="url(#gpr)" stroke-width="11" stroke-linecap="round" fill="none"/>
<path d="M1658.5,307.5 L1681,326.7 L1658.5,346" stroke="#0c20f2" stroke-width="10.5" stroke-linecap="round" stroke-linejoin="round" fill="none"/>
<path d="M1876.5,391 C1878.0,388.7 1882.7,383.9 1885.8,377.3 C1888.9,370.7 1893.0,360.1 1895.2,351.5 C1897.4,342.9 1898.2,333.6 1898.7,325.8 C1899.2,318.1 1898.8,310.8 1898.3,305 C1897.8,299.2 1897.2,296.4 1895.9,291.2 C1894.6,286.0 1893.3,278.6 1890.7,273.7 C1888.1,268.8 1882.2,263.9 1880.5,262 L1880.2,254 L1858.2,259.8 L1872.2,283.5 L1876.3,277.3  C1877.6,278.5 1881.8,281.8 1884,284.5 C1886.2,287.2 1887.8,289.1 1889.2,293.3 C1890.6,297.6 1891.6,304.6 1892.3,310 C1893.0,315.4 1893.7,318.9 1893.2,325.8 C1892.7,332.7 1891.3,342.9 1889.2,351.5 C1887.1,360.1 1882.7,370.7 1880.6,377.3 C1878.5,383.9 1877.2,388.7 1876.5,391 Z" fill="url(#gye)"/>
<circle cx="1925.5" cy="315.1" r="19.8" fill="url(#gel)" stroke="#111" stroke-width="2.8"/>
<text x="1923.2" y="322.4" font-size="24.5" font-weight="bold" text-anchor="middle">e</text>
<text x="1932.6" y="315.2" font-size="17" font-weight="bold" text-anchor="middle">&#8722;</text>
</svg>
</body></html>
